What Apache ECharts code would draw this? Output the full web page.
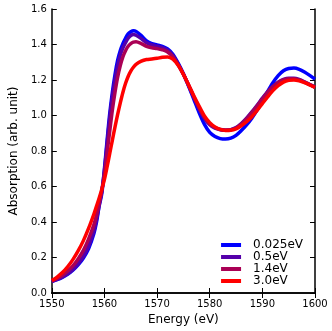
<!DOCTYPE html>
<html><head><meta charset="utf-8">
<script src="https://cdn.jsdelivr.net/npm/echarts@6/dist/echarts.min.js"></script>
<style>html,body{margin:0;padding:0;background:#fff}#c{width:332px;height:331px}</style>
</head><body><div id="c"></div>
<script>
const energy = [1550,1551,1552,1553,1554,1555,1556,1557,1558,1558.5,1559,1559.5,1560,1560.5,1561,1561.5,1562,1562.5,1563,1563.5,1564,1564.5,1565,1565.5,1566,1567,1568,1569,1570,1571,1572,1573,1574,1575,1576,1577,1578,1579,1580,1581,1582,1583,1584,1585,1586,1587,1588,1589,1590,1591,1592,1593,1594,1595,1596,1597,1598,1599,1600];
const s0025 = [0.065,0.075,0.088,0.105,0.128,0.158,0.197,0.25,0.335,0.40,0.49,0.56,0.70,0.86,1.01,1.13,1.23,1.31,1.365,1.405,1.435,1.46,1.472,1.478,1.474,1.45,1.42,1.405,1.398,1.39,1.375,1.345,1.295,1.235,1.165,1.09,1.015,0.95,0.905,0.882,0.87,0.867,0.872,0.888,0.915,0.947,0.985,1.03,1.08,1.135,1.185,1.225,1.252,1.265,1.267,1.26,1.245,1.226,1.205];
const s05 = [0.065,0.076,0.09,0.108,0.133,0.165,0.207,0.265,0.35,0.415,0.495,0.575,0.69,0.84,0.985,1.105,1.20,1.28,1.34,1.38,1.41,1.435,1.45,1.456,1.452,1.433,1.41,1.397,1.39,1.383,1.368,1.338,1.29,1.233,1.168,1.1,1.037,0.983,0.948,0.928,0.92,0.917,0.92,0.932,0.955,0.985,1.02,1.058,1.098,1.135,1.165,1.188,1.203,1.21,1.21,1.203,1.19,1.175,1.16];
const s14 = [0.067,0.082,0.1,0.124,0.153,0.192,0.24,0.305,0.385,0.44,0.505,0.575,0.67,0.79,0.91,1.03,1.13,1.215,1.28,1.33,1.365,1.39,1.405,1.413,1.415,1.405,1.39,1.382,1.377,1.37,1.358,1.33,1.285,1.232,1.17,1.105,1.043,0.988,0.952,0.932,0.921,0.918,0.92,0.93,0.952,0.98,1.015,1.053,1.092,1.13,1.162,1.186,1.2,1.207,1.207,1.2,1.188,1.174,1.16];
const s30 = [0.07,0.09,0.115,0.148,0.188,0.237,0.295,0.365,0.445,0.49,0.535,0.585,0.64,0.71,0.785,0.86,0.935,1.005,1.07,1.13,1.18,1.22,1.25,1.272,1.288,1.306,1.315,1.318,1.322,1.328,1.33,1.318,1.283,1.232,1.172,1.11,1.052,0.998,0.96,0.936,0.922,0.916,0.917,0.925,0.942,0.965,0.993,1.028,1.067,1.105,1.14,1.168,1.188,1.198,1.2,1.195,1.185,1.172,1.158];
const seriesNames = ['0.025eV','0.5eV','1.4eV','3.0eV'];
const seriesColors = ['#0000ff','#5500aa','#aa0055','#ff0000'];
const seriesData = [s0025, s05, s14, s30];

const font = 'DejaVu Sans';
const chart = echarts.init(document.getElementById('c'));
const axisBase = {
  axisLine:{show:true,lineStyle:{color:'#000',width:1.5}},
  axisTick:{show:true,inside:true,length:5,lineStyle:{color:'#000',width:1}},
  splitLine:{show:false}
};
chart.setOption({
  animation:false,
  backgroundColor:'#fff',
  grid:{left:40,right:17,top:9,bottom:38},
  legend:{
    orient:'vertical', right:24, top:234, itemWidth:20, itemHeight:4, itemGap:0,
    icon:'rect',
    data:seriesNames,
    textStyle:{fontFamily:font,fontSize:12,color:'#000',lineHeight:12,padding:[0,0,0,7]}
  },
  xAxis:[
    Object.assign({type:'value',min:1550,max:1600,interval:10,
      name:'Energy (eV)',nameLocation:'middle',nameGap:18,
      nameTextStyle:{fontFamily:font,fontSize:12,color:'#000'},
      axisLabel:{fontFamily:font,fontSize:10,color:'#000',margin:6,formatter:v=>String(v)}},axisBase),
    Object.assign({type:'value',min:1550,max:1600,interval:10,position:'top',
      axisLabel:{show:false}},axisBase)
  ],
  yAxis:[
    Object.assign({type:'value',min:0,max:1.6,interval:0.2,
      name:'Absorption (arb. unit)',nameLocation:'middle',nameGap:26,
      nameTextStyle:{fontFamily:font,fontSize:12,color:'#000'},
      axisLabel:{fontFamily:font,fontSize:10,color:'#000',margin:5,formatter:v=>v.toFixed(1)}},axisBase),
    Object.assign({type:'value',min:0,max:1.6,interval:0.2,position:'right',
      axisLabel:{show:false}},axisBase)
  ],
  series: seriesNames.map((n,i)=>({
    name:n, type:'line', smooth:0.3, symbol:'none',
    color:seriesColors[i],
    lineStyle:{width:3.5,color:seriesColors[i]},
    data: energy.map((x,j)=>[x, seriesData[i][j]])
  }))
});
</script></body></html>
